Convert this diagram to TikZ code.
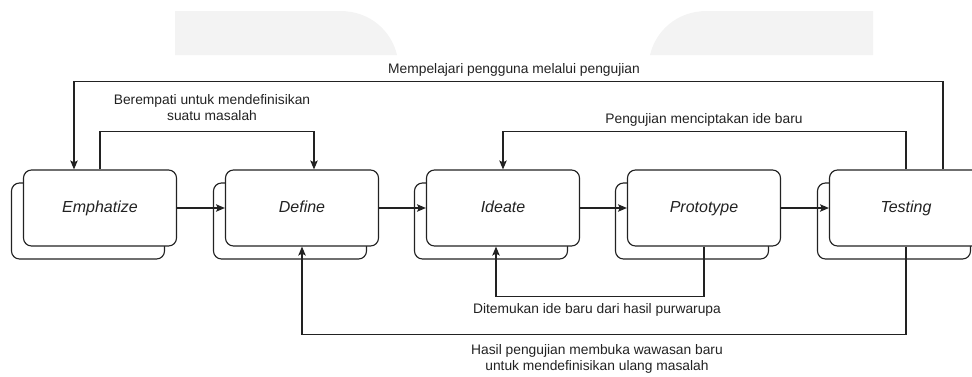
\documentclass[tikz,border=0pt]{standalone}
\usepackage{fontspec}
\setmainfont{Liberation Sans}
\usetikzlibrary{arrows.meta}
\definecolor{wm}{HTML}{F3F3F3}
\definecolor{ink}{HTML}{222222}
\begin{document}
\begin{tikzpicture}[x=1pt,y=-1pt,
  line width=1.15pt,
  phase/.style={draw=ink, fill=white, rounded corners=8pt, minimum width=153pt,
    minimum height=76pt, inner sep=0pt, text=ink, text height=11.5pt, text depth=3.5pt,
    font=\fontsize{16}{19}\selectfont\itshape},
  lbl/.style={font=\fontsize{13.8}{15.5}\selectfont, text=ink, align=center, inner sep=0pt},
  flow/.style={draw=ink, -{Stealth[length=9pt,width=7.5pt,inset=2pt]}}]

\useasboundingbox (0,0) rectangle (972,376);
\clip (0,0) rectangle (972,376);

% pale header shapes
\fill[wm] (175,55) -- (175,11) -- (340,11) .. controls (372,11) and (392,33) .. (397,55) -- cycle;
\fill[wm] (873,55) -- (873,11) -- (707,11) .. controls (675,11) and (655,33) .. (650,55) -- cycle;

% stacked phase boxes: back card first, then the front card with its name
\foreach \n/\x in {emph/100, def/302, idea/503, proto/704, test/906}
  \node[phase] (\n B) at ({\x-12},221) {};
\node[phase] (emph)  at (100,208) {Emphatize};
\node[phase] (def)   at (302,208) {Define};
\node[phase] (idea)  at (503,208) {Ideate};
\node[phase] (proto) at (704,208) {Prototype};
\node[phase] (test)  at (906,208) {Testing};

% main sequence
\draw[flow] (emph) -- (def);
\draw[flow] (def) -- (idea);
\draw[flow] (idea) -- (proto);
\draw[flow] (proto) -- (test);

% feedback loops
\draw[flow] (emph.north) -- ++(0,-38) -| ([xshift=12pt]def.north);
\draw[flow] ([xshift=37pt]test.north) -- ++(0,-88) -| ([xshift=-26pt]emph.north);
\draw[flow] (test.north) -- ++(0,-38) -| (idea.north);
\draw[flow] (proto.south) -- ++(0,50) -| ([xshift=-7pt]idea.south);
\draw[flow] (test.south) -- ++(0,88) -| (def.south);

% loop labels
\node[lbl] (lTop) at (514,70) {Mempelajari pengguna melalui pengujian};
\node[lbl] (lEmp) at (212,107.5) {Berempati untuk mendefinisikan\\suatu masalah};
\node[lbl] (lIde) at (704,120) {Pengujian menciptakan ide baru};
\node[lbl] (lPro) at (597,310) {Ditemukan ide baru dari hasil purwarupa};
\node[lbl] (lDef) at (597,359) {Hasil pengujian membuka wawasan baru\\untuk mendefinisikan ulang masalah};
\end{tikzpicture}
\end{document}
